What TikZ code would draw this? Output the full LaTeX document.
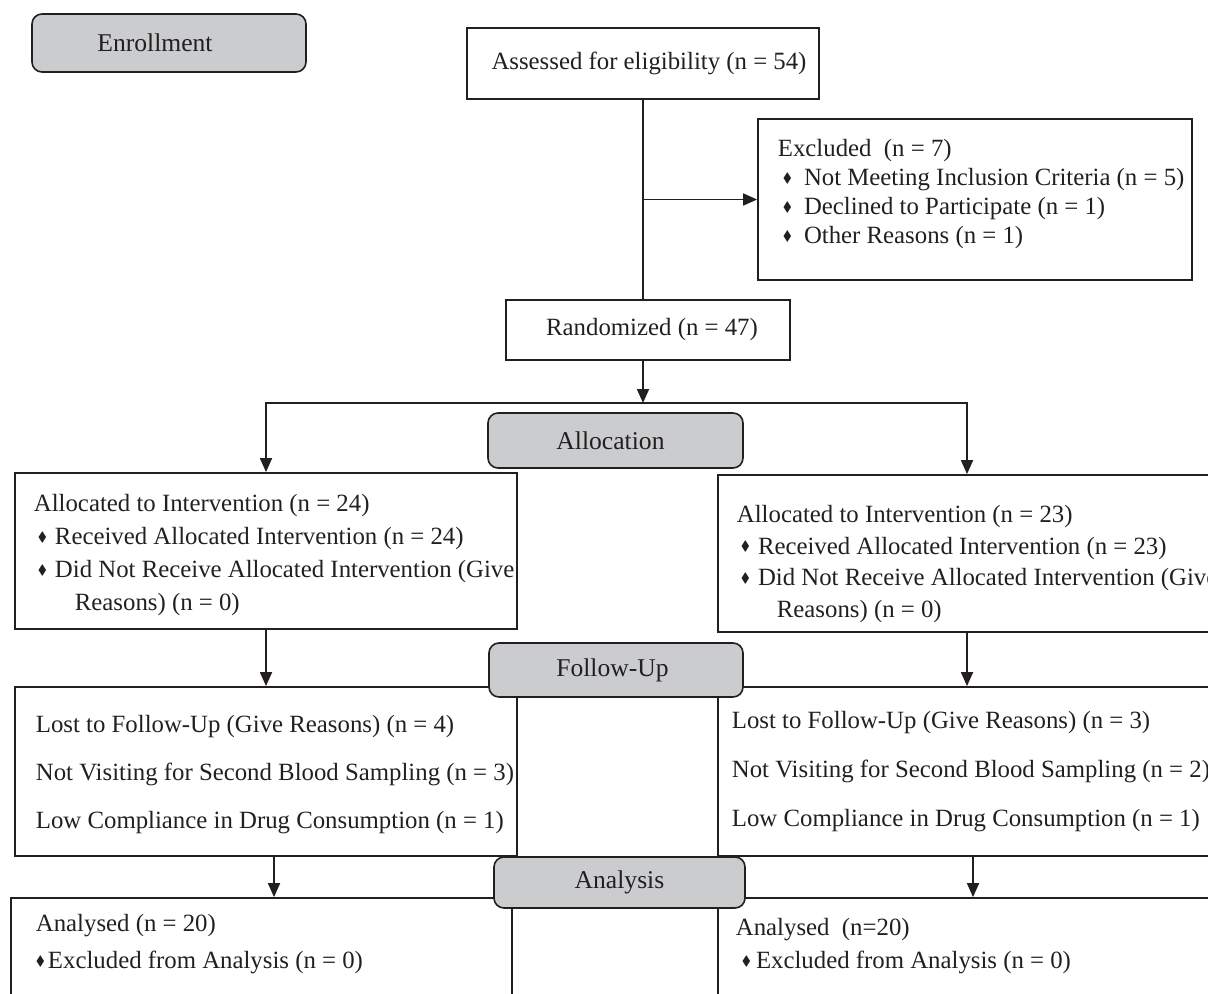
\documentclass[tikz,border=0pt]{standalone}
\usepackage{amssymb}
\usepackage{graphicx}
\usepackage{fontspec}
\setmainfont{Liberation Serif}
\usetikzlibrary{arrows.meta}

\definecolor{stagegray}{HTML}{CBCCCE}
\definecolor{ink}{HTML}{231F20}
\newcommand{\dia}{\raisebox{0.3ex}{\scalebox{0.55}{$\blacklozenge$}}}

\begin{document}
\begin{tikzpicture}[->,>={Triangle[length=7pt,width=6pt]},x=0.5pt,y=-0.5pt,
                    line width=0.9pt,color=ink]
\tikzstyle{every node}=[font=\fontsize{12.4}{16.5}\selectfont,text=ink]
\tikzstyle{box}=[draw,rectangle,inner sep=0pt]
\tikzstyle{stage}=[draw=ink,fill=stagegray,rounded corners=5pt,line width=0.8pt,
                   font=\fontsize{12.8}{16}\selectfont]
\tikzstyle{txt}=[anchor=west,align=left,inner sep=0pt]

\path[use as bounding box] (0,0) rectangle (1208,994);
\clip (0,0) rectangle (1208,994);

% boxes
\node [box,minimum width=176pt,minimum height=35.5pt] (assess) at (643,63.5) {\hspace{6pt}Assessed for eligibility (n = 54)};
\node [box,minimum width=217pt,minimum height=80.5pt] (excl) at (975,199.5) {};
\node [box,minimum width=142pt,minimum height=30pt] (rand) at (648,330) {\hspace{4pt}Randomized (n = 47)};
\node [box,minimum width=251pt,minimum height=78pt] (allocL) at (266,551) {};
\node [box,minimum width=249pt,minimum height=78.5pt] (allocR) at (967,553.5) {};
\node [box,minimum width=251pt,minimum height=84.5pt] (fuL) at (266,771.5) {};
\node [box,minimum width=249pt,minimum height=84.5pt] (fuR) at (967,771.5) {};
\node [box,minimum width=250.5pt,minimum height=81pt] (anL) at (261.5,979) {};
\node [box,minimum width=249pt,minimum height=81pt] (anR) at (967,979) {};

% texts
\node [txt,font=\fontsize{12.4}{14.5}\selectfont] (excltxt) at (777,194)
  {Excluded\ \ (n = 7)\\
   \hspace*{2.5pt}\dia\hspace{6pt}Not Meeting Inclusion Criteria (n = 5)\\
   \hspace*{2.5pt}\dia\hspace{6pt}Declined to Participate (n = 1)\\
   \hspace*{2.5pt}\dia\hspace{6pt}Other Reasons (n = 1)};
\node [txt] (allocLtxt) at (33,555)
  {Allocated to Intervention (n = 24)\\
   \hspace*{2pt}\dia\hspace{4pt}Received Allocated Intervention (n = 24)\\
   \hspace*{2pt}\dia\hspace{4pt}Did Not Receive Allocated Intervention (Give\\
   \hspace*{20.5pt}Reasons) (n = 0)};
\node [txt,font=\fontsize{12.4}{15.7}\selectfont] (allocRtxt) at (736,564)
  {Allocated to Intervention (n = 23)\\
   \hspace*{2pt}\dia\hspace{4pt}Received Allocated Intervention (n = 23)\\
   \hspace*{2pt}\dia\hspace{4pt}Did Not Receive Allocated Intervention (Give\\
   \hspace*{20pt}Reasons) (n = 0)};
\node [txt,font=\fontsize{12.4}{24}\selectfont] (fuLtxt) at (35,775)
  {Lost to Follow-Up (Give Reasons) (n = 4)\\
   Not Visiting for Second Blood Sampling (n = 3)\\
   Low Compliance in Drug Consumption (n = 1)};
\node [txt,font=\fontsize{12.4}{24.3}\selectfont] (fuRtxt) at (731,771.5)
  {Lost to Follow-Up (Give Reasons) (n = 3)\\
   Not Visiting for Second Blood Sampling (n = 2)\\
   Low Compliance in Drug Consumption (n = 1)};
\node [txt,font=\fontsize{12.4}{18.5}\selectfont] (anLtxt) at (35,944.5)
  {Analysed (n = 20)\\
   \dia\hspace{1.5pt}Excluded from Analysis (n = 0)};
\node [txt] (anRtxt) at (735,946.5)
  {Analysed\ \ (n=20)\\
   \hspace*{3pt}\dia\hspace{2.5pt}Excluded from Analysis (n = 0)};

% stage labels
\node [stage,minimum width=137pt,minimum height=29pt] (enroll) at (169,43) {Enrollment\hspace{14pt}\mbox{}};
\node [stage,minimum width=127.5pt,minimum height=27.5pt] (allocation) at (615.5,440.5) {Allocation\hspace{5pt}\mbox{}};
\node [stage,minimum width=127pt,minimum height=27pt] (followup) at (616,670) {Follow-Up\hspace{3.5pt}\mbox{}};
\node [stage,minimum width=125.5pt,minimum height=25.5pt] (analysis) at (619.5,882.5) {Analysis};

% connectors
\coordinate (split) at (643,403);
\draw [-] (assess.south) -- (assess.south |- rand.north);
\draw (assess.south |- excl.west) -- (excl.west);
\draw (split |- rand.south) -- (split);
\draw (split) -| (allocL.north);
\draw (split) -| (allocR.north);
\draw (allocL) -- (fuL);
\draw (allocR) -- (fuR);
\draw ([xshift=4pt]fuL.south) -- ([xshift=4pt]fuL.south |- anL.north);
\draw ([xshift=3pt]fuR.south) -- ([xshift=3pt]fuR.south |- anR.north);
\end{tikzpicture}
\end{document}
